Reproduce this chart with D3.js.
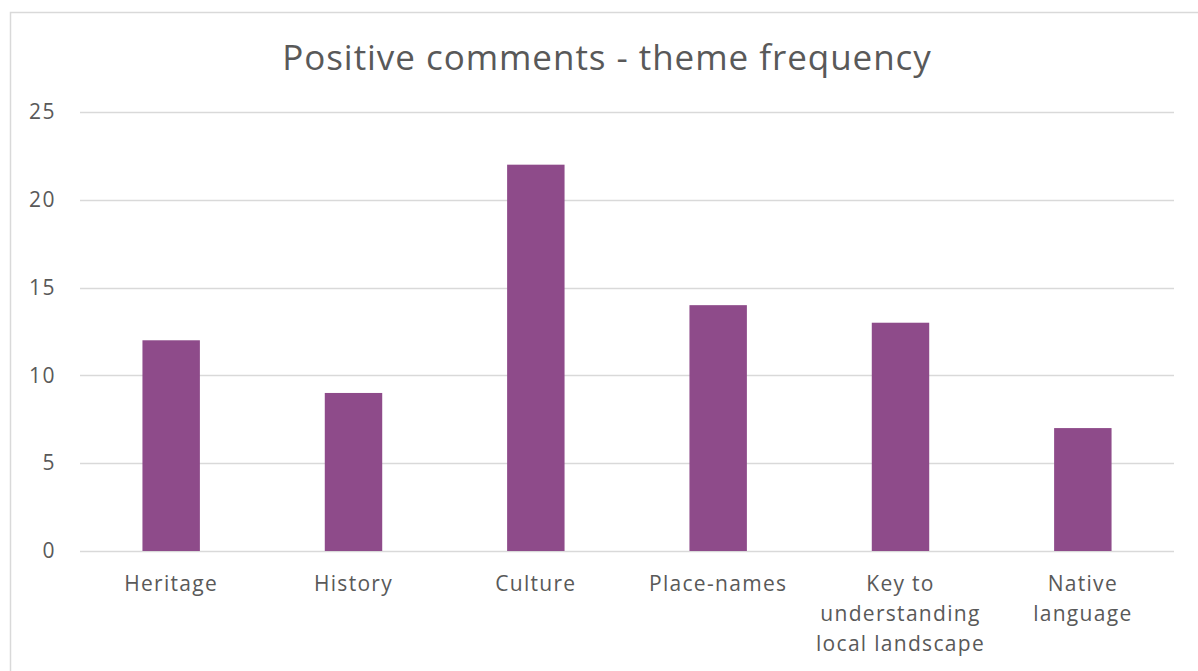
<!DOCTYPE html>
<html>
<head>
<meta charset="utf-8">
<script src="https://cdn.jsdelivr.net/npm/d3@7"></script>
<style>
  body { margin: 0; background: #fff; }
  svg { display: block; font-family: "Open Sans", sans-serif; }
</style>
</head>
<body>
<div id="chart"></div>
<script>
// Data
const categories = ["Heritage", "History", "Culture", "Place-names", "Key to understanding local landscape", "Native language"];
const categoryLines = [["Heritage"], ["History"], ["Culture"], ["Place-names"], ["Key to", "understanding", "local landscape"], ["Native", "language"]];
const values = [12, 9, 22, 14, 13, 7];
const yTicks = [0, 5, 10, 15, 20, 25];
const title = "Positive comments - theme frequency";

const width = 1198, height = 671;
const plot = { left: 80, right: 1174, top: 112, bottom: 551 };
const font = "'Open Sans', sans-serif";

const svg = d3.select("#chart").append("svg")
	.attr("width", width).attr("height", height);

// Chart border
svg.append("rect")
	.attr("x", 10.5).attr("y", 12.5)
	.attr("width", 1200).attr("height", 700)
	.attr("fill", "#fff").attr("stroke", "#d9d9d9").attr("stroke-width", 1.5);

// Scales
const x = d3.scaleBand(categories, [plot.left, plot.right]);
const y = d3.scaleLinear([0, 25], [plot.bottom, plot.top]);
const barW = x.step() * 0.315;

// Gridlines
svg.append("g").selectAll("line")
	.data(yTicks).join("line")
	.attr("x1", plot.left).attr("x2", plot.right)
	.attr("y1", d => Math.round(y(d)) + 0.5).attr("y2", d => Math.round(y(d)) + 0.5)
	.attr("stroke", "#d9d9d9").attr("stroke-width", 1.5);

// Bars
svg.append("g").selectAll("rect")
	.data(values).join("rect")
	.attr("x", (d, i) => x(categories[i]) + x.bandwidth() / 2 - barW / 2)
	.attr("y", d => y(d))
	.attr("width", barW)
	.attr("height", d => y(0) - y(d))
	.attr("fill", "#8e4b8a");

// Y axis labels
const axisY = svg.append("g")
	.attr("transform", `translate(${plot.left - 24}, 0)`)
	.call(d3.axisLeft(y).tickValues(yTicks).tickSize(0).tickPadding(0));
axisY.select(".domain").remove();
axisY.selectAll("text")
	.attr("font-size", 21).attr("fill", "#595959")
	.attr("letter-spacing", 1.5)
	.attr("font-family", font);

// X axis labels
const labels = svg.append("g").selectAll("text")
	.data(categoryLines).join("text")
	.attr("text-anchor", "middle")
	.attr("font-size", 21).attr("fill", "#595959")
	.attr("letter-spacing", 1.3)
	.attr("x", (d, i) => x(categories[i]) + x.bandwidth() / 2)
	.attr("y", 591);
labels.selectAll("tspan")
	.data(d => d).join("tspan")
	.attr("x", function () { return d3.select(this.parentNode).attr("x"); })
	.attr("dy", (d, i) => i === 0 ? 0 : 30)
	.text(d => d);

// Title
svg.append("text")
	.attr("x", 607).attr("y", 70)
	.attr("text-anchor", "middle")
	.attr("font-size", 35).attr("fill", "#595959")
	.attr("letter-spacing", 0.95)
	.text(title);
</script>
</body>
</html>
